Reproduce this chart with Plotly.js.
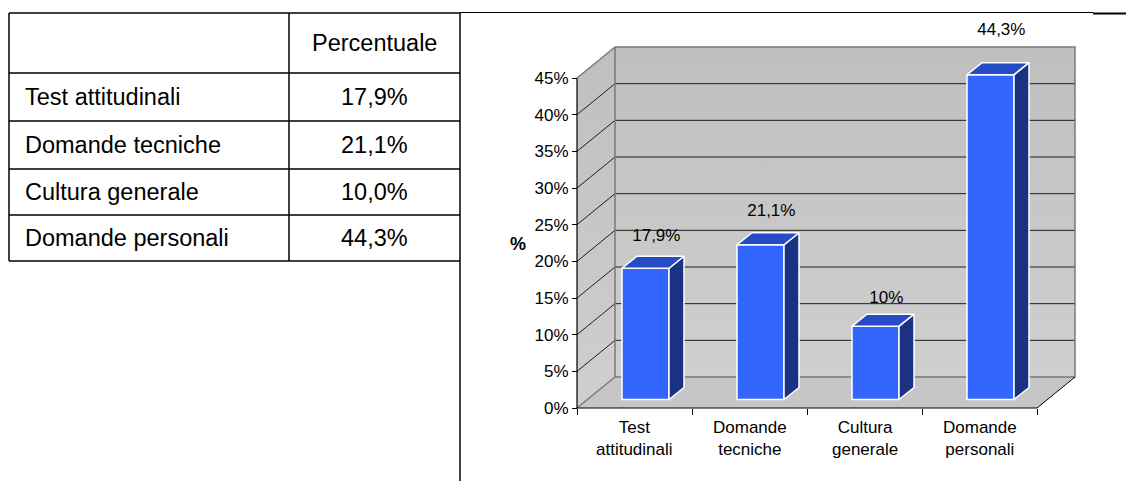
<!DOCTYPE html>
<html>
<head>
<meta charset="utf-8">
<script src="https://cdn.plot.ly/plotly-3.0.1.min.js"></script>
<style>html,body{margin:0;padding:0;background:#fff;}#chart{width:1126px;height:481px;}</style>
</head>
<body>
<div id="chart"></div>
<script>
// ---------------- data ----------------
const categories = ['Test attitudinali', 'Domande tecniche', 'Cultura generale', 'Domande personali'];
const axisLabels = ['Test<br>attitudinali', 'Domande<br>tecniche', 'Cultura<br>generale', 'Domande<br>personali'];
const values = [17.9, 21.1, 10.0, 44.3];
const tableValueLabels = ['17,9%', '21,1%', '10,0%', '44,3%'];
const barValueLabels = ['17,9%', '21,1%', '10%', '44,3%'];
const tableHeader = ['', 'Percentuale'];
const yTicks = [0, 5, 10, 15, 20, 25, 30, 35, 40, 45];
const yTickText = ['0%', '5%', '10%', '15%', '20%', '25%', '30%', '35%', '40%', '45%'];
const yAxisTitle = '%';

// ---------------- geometry / style ----------------
const W = 1126, H = 481;
const px = x => x / W;
const py = y => 1 - y / H;
const FONT = 'Arial, "Liberation Sans", sans-serif';
const CHART_FS = 17, TABLE_FS = 23.5;

const SX = 115;          // px per category
const SY = 330 / 45;     // px per percent
const X0PX = 577, Y0PX = 408; // front-left-bottom corner
const yMax = yTicks[yTicks.length - 1];
const n = categories.length;
const DX = 38 / SX, DY = 31 / SY;           // wall depth
const BSX = 11 / SX, BSY = 8.5 / SY;        // bar front shift
const BW = 47 / SX;                         // bar width
const BDX = 15 / SX, BDY = 12 / SY;         // bar depth
const PAD = 3, TOPROOM = 36;

const xMin = -0.5, xMax = n - 0.5;
const yTop = yMax + DY + TOPROOM / SY;
const xRange = [xMin - PAD / SX, xMax + DX + PAD / SX];
const yRange = [-PAD / SY, yTop];
const xDomain = [px(X0PX - PAD), px(X0PX + (xMax + DX - xMin) * SX + PAD)];
const yDomain = [py(Y0PX + PAD), py(Y0PX - yTop * SY)];

const traces = [];
const wallGrad = {type: 'vertical', colorscale: [[0, '#cfcfcf'], [1, '#bfbfbf']]};

// floor
traces.push({type: 'scatter', mode: 'lines', x: [xMin, xMax, xMax + DX, xMin + DX, xMin], y: [0, 0, DY, DY, 0],
  fill: 'toself', fillcolor: '#c6c6c6', line: {width: 0}, hoverinfo: 'skip', showlegend: false});
// side wall
traces.push({type: 'scatter', mode: 'lines', x: [xMin, xMin, xMin + DX, xMin + DX, xMin], y: [0, yMax, yMax + DY, DY, 0],
  fill: 'toself', fillcolor: '#c8c8c8', fillgradient: wallGrad, line: {width: 0}, hoverinfo: 'skip', showlegend: false});
// back wall
traces.push({type: 'scatter', mode: 'lines', x: [xMin + DX, xMax + DX, xMax + DX, xMin + DX, xMin + DX], y: [DY, DY, yMax + DY, yMax + DY, DY],
  fill: 'toself', fillcolor: '#c6c6c6', fillgradient: wallGrad, line: {width: 0}, hoverinfo: 'skip', showlegend: false});

// gridlines
const gx = [], gy = [];
yTicks.slice(1, -1).forEach(t => {
  gx.push(xMin, xMin + DX, xMax + DX, null);
  gy.push(t, t + DY, t + DY, null);
});
traces.push({type: 'scatter', mode: 'lines', x: gx, y: gy, line: {color: '#1e1e1e', width: 1}, hoverinfo: 'skip', showlegend: false});

// grey wall edges
traces.push({type: 'scatter', mode: 'lines',
  x: [xMin, xMin + DX, xMin + DX, null, xMin + DX, xMax + DX, xMax + DX, xMin + DX, null, xMin, xMin + DX],
  y: [yMax, yMax + DY, DY, null, yMax + DY, yMax + DY, DY, DY, null, 0, DY],
  line: {color: '#7a7a7a', width: 1.5}, hoverinfo: 'skip', showlegend: false});
// floor right edge
traces.push({type: 'scatter', mode: 'lines', x: [xMax, xMax + DX], y: [0, DY],
  line: {color: '#000', width: 1}, hoverinfo: 'skip', showlegend: false});
// front axis lines
traces.push({type: 'scatter', mode: 'lines', x: [xMin, xMin, xMax], y: [yMax, 0, 0],
  line: {color: '#000', width: 1.2}, hoverinfo: 'skip', showlegend: false});

// bars (front faces)
const barX = categories.map((c, i) => i + BSX);
traces.push({type: 'bar', x: barX, y: values, base: BSY, width: BW, xaxis: 'x2', yaxis: 'y2',
  marker: {color: '#3366ff', line: {color: '#ffffff', width: 1.5}}, hoverinfo: 'skip', showlegend: false});

// bar sides and tops
const sx = [], sy = [], tx = [], ty = [];
values.forEach((v, i) => {
  const xl = barX[i] - BW / 2, xr = barX[i] + BW / 2, b = BSY, t = BSY + v;
  sx.push(xr, xr + BDX, xr + BDX, xr, xr, null);
  sy.push(b, b + BDY, t + BDY, t, b, null);
  tx.push(xl, xr, xr + BDX, xl + BDX, xl, null);
  ty.push(t, t, t + BDY, t + BDY, t, null);
});
traces.push({type: 'scatter', mode: 'lines', x: sx, y: sy, xaxis: 'x2', yaxis: 'y2', fill: 'toself',
  fillcolor: '#1b3282', line: {color: '#ffffff', width: 1.5}, hoverinfo: 'skip', showlegend: false});
traces.push({type: 'scatter', mode: 'lines', x: tx, y: ty, xaxis: 'x2', yaxis: 'y2', fill: 'toself',
  fillcolor: '#264bc6', line: {color: '#ffffff', width: 1.5}, hoverinfo: 'skip', showlegend: false});

// bar value labels
traces.push({type: 'scatter', mode: 'text', xaxis: 'x2', yaxis: 'y2', cliponaxis: false,
  x: categories.map((c, i) => i + 0.19), y: values.map(v => 4.27 + 1.064 * v), text: barValueLabels,
  textposition: 'middle center', textfont: {family: FONT, size: CHART_FS, color: '#000'}, hoverinfo: 'skip', showlegend: false});

// ---------------- annotations ----------------
const annotations = [];
// y axis title
annotations.push({xref: 'paper', yref: 'paper', x: px(518), y: py(244), text: '<b>' + yAxisTitle + '</b>',
  showarrow: false, xanchor: 'center', yanchor: 'middle', font: {family: FONT, size: 18, color: '#000'}});
// category labels
axisLabels.forEach((t, i) => annotations.push({xref: 'x', yref: 'paper', x: i, y: py(416), text: t, showarrow: false,
  xanchor: 'center', yanchor: 'top', align: 'center', font: {family: FONT, size: CHART_FS, color: '#000'}}));

// table
const T = {l: 9, c: 289, r: 460, rows: [13, 73, 121, 169, 215, 261]};
const shapes = [];
T.rows.forEach(y => shapes.push({type: 'line', xref: 'paper', yref: 'paper', x0: px(T.l), x1: px(T.r), y0: py(y), y1: py(y), line: {color: '#000', width: 1.5}}));
[T.l, T.c].forEach(x => shapes.push({type: 'line', xref: 'paper', yref: 'paper', x0: px(x), x1: px(x), y0: py(T.rows[0]), y1: py(T.rows[T.rows.length - 1]), line: {color: '#000', width: 1.5}}));
// page frame lines
shapes.push({type: 'line', xref: 'paper', yref: 'paper', x0: px(T.r), x1: px(T.r), y0: py(13), y1: py(481), line: {color: '#000', width: 1.5}});
shapes.push({type: 'line', xref: 'paper', yref: 'paper', x0: px(T.r), x1: px(1093), y0: py(12.5), y1: py(12.5), line: {color: '#000', width: 1}});
shapes.push({type: 'line', xref: 'paper', yref: 'paper', x0: px(1093), x1: px(1126), y0: py(13.5), y1: py(13.5), line: {color: '#000', width: 2.2}});

const mid = k => (T.rows[k] + T.rows[k + 1]) / 2;
annotations.push({xref: 'paper', yref: 'paper', x: px((T.c + T.r) / 2), y: py(mid(0)), text: tableHeader[1], showarrow: false,
  xanchor: 'center', yanchor: 'middle', font: {family: FONT, size: TABLE_FS, color: '#000'}});
categories.forEach((c, i) => {
  annotations.push({xref: 'paper', yref: 'paper', x: px(23), y: py(mid(i + 1)), text: c, showarrow: false,
    xanchor: 'left', yanchor: 'middle', font: {family: FONT, size: TABLE_FS, color: '#000'}});
  annotations.push({xref: 'paper', yref: 'paper', x: px((T.c + T.r) / 2), y: py(mid(i + 1)), text: tableValueLabels[i], showarrow: false,
    xanchor: 'center', yanchor: 'middle', font: {family: FONT, size: TABLE_FS, color: '#000'}});
});

const tickBounds = categories.map((c, i) => i - 0.5).concat([n - 0.5]);

const layout = {
  width: W, height: H, margin: {l: 0, r: 0, t: 0, b: 0},
  paper_bgcolor: '#ffffff', plot_bgcolor: 'rgba(0,0,0,0)', showlegend: false,
  font: {family: FONT, color: '#000'},
  xaxis: {range: xRange, domain: xDomain, anchor: 'free', position: py(Y0PX), showgrid: false, zeroline: false, showline: false,
    tickmode: 'array', tickvals: tickBounds, ticks: 'outside', ticklen: 6, tickwidth: 1, tickcolor: '#000', showticklabels: false, fixedrange: true},
  yaxis: {range: yRange, domain: yDomain, anchor: 'free', position: px(X0PX), showgrid: false, zeroline: false, showline: false,
    tickmode: 'array', tickvals: yTicks, ticktext: yTickText, ticks: 'outside', ticklen: 5, tickwidth: 1, tickcolor: '#000',
    tickfont: {family: FONT, size: CHART_FS, color: '#000'}, fixedrange: true},
  xaxis2: {overlaying: 'x', matches: 'x', visible: false},
  yaxis2: {overlaying: 'y', matches: 'y', visible: false},
  bargap: 0, shapes: shapes, annotations: annotations
};

Plotly.newPlot('chart', traces, layout, {staticPlot: true, displayModeBar: false});
</script>
</body>
</html>
